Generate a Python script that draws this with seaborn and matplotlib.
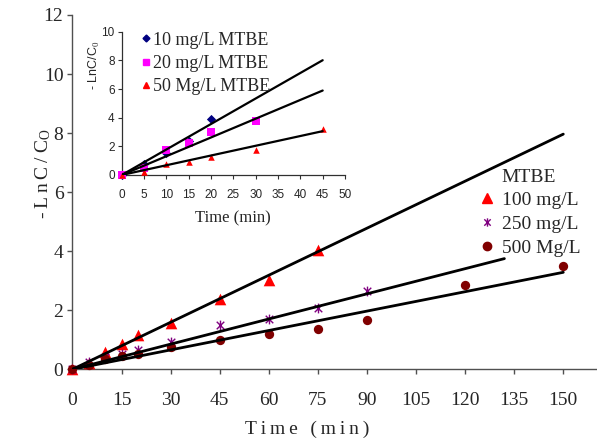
import numpy as np
import pandas as pd
import seaborn as sns
import matplotlib.pyplot as plt
from matplotlib.lines import Line2D
from matplotlib.path import Path

# main chart: -LnC/Co vs time for three MTBE concentrations
t_100 = [0, 5, 10, 15, 20, 30, 45, 60, 75]
y_100 = [0, 0.22, 0.59, 0.87, 1.15, 1.57, 2.37, 3.04, 4.03]
t_250 = [0, 5, 10, 15, 20, 30, 45, 60, 75, 90]
y_250 = [0, 0.25, 0.42, 0.53, 0.64, 0.93, 1.49, 1.72, 2.06, 2.64]
t_500 = [0, 5, 10, 15, 20, 30, 45, 60, 75, 90, 120, 150]
y_500 = [0, 0.14, 0.36, 0.44, 0.51, 0.76, 0.98, 1.18, 1.38, 1.68, 2.87, 3.50]
main_labels = ['100 mg/L', '250 mg/L', '500 Mg/L']
main_slopes = [0.0531, 0.0284, 0.0219]
main_line_end = [150, 132, 150]
main_xticks = [0, 15, 30, 45, 60, 75, 90, 105, 120, 135, 150]

# inset chart: low concentrations
t_10 = [0, 5, 10, 15, 20]
y_10 = [0, 0.75, 1.56, 2.40, 3.90]
t_20 = [0, 5, 10, 15, 20, 30]
y_20 = [0, 0.46, 1.74, 2.20, 2.98, 3.77]
t_50 = [0, 5, 10, 15, 20, 30, 45]
y_50 = [0, 0.23, 0.74, 0.93, 1.28, 1.74, 3.20]
inset_labels = ['10 mg/L MTBE', '20 mg/L MTBE', '50 Mg/L MTBE']
inset_slopes = [0.178, 0.131, 0.068]
inset_line_end = [45, 45, 45]

sns.set_style('ticks')
plt.rcParams['font.family'] = ['Liberation Serif', 'DejaVu Serif']
plt.rcParams['mathtext.fontset'] = 'custom'
plt.rcParams['mathtext.rm'] = 'Liberation Serif'

# asterisk marker = x plus vertical bar (excel style)
star = Path([(-1, -1), (1, 1), (-1, 1), (1, -1), (0, -1.3), (0, 1.3)],
            [Path.MOVETO, Path.LINETO, Path.MOVETO, Path.LINETO, Path.MOVETO, Path.LINETO])

fig = plt.figure(figsize=(5.97, 4.41), dpi=100)
ax = fig.add_axes([0.1214, 0.1626, 0.8786, 0.8034])

sns.scatterplot(x=t_100, y=y_100, marker='^', color='#ff0000', edgecolor='#ff0000',
                s=70, linewidth=0, ax=ax, clip_on=False, zorder=3)
sns.scatterplot(x=t_250, y=y_250, marker=star, color='#800080', edgecolor='#800080',
                s=50, linewidth=1, ax=ax, clip_on=False, zorder=3)
sns.scatterplot(x=t_500, y=y_500, marker='o', color='#800000', edgecolor='#800000',
                s=45, linewidth=0, ax=ax, clip_on=False, zorder=3)

for k, e in zip(main_slopes, main_line_end):
    sns.lineplot(x=[0, e], y=[0, k * e], color='black', lw=2.0, ax=ax, zorder=4)

ax.set_xlim(0, 160.3)
ax.set_ylim(0, 12)
ax.set_xticks(main_xticks)
ax.set_yticks(range(0, 13, 2))
sns.despine(ax=ax)
for s in ['left', 'bottom']:
    ax.spines[s].set_color('#505050')
    ax.spines[s].set_linewidth(1.0)
ax.tick_params(axis='both', labelsize=14, direction='out', length=3.5, width=1,
               color='#505050')
ax.tick_params(axis='x', pad=13)
ax.tick_params(axis='y', pad=3)

ax.set_xlabel('T\u2009i\u2009m\u2009e\u2009 \u2009(\u2009m\u2009i\u2009n\u2009)', fontsize=14)
ax.xaxis.set_label_coords(0.447, -0.145)
ax.set_ylabel('-\u2009L\u2009n\u2009C\u2009/\u2009C$\\mathregular{_O}$', fontsize=14)
ax.yaxis.set_label_coords(-0.037, 0.551)

handles = [Line2D([], [], linestyle='none', marker='')]
handles.append(Line2D([], [], linestyle='none', marker='^', color='#ff0000', markersize=7))
handles.append(Line2D([], [], linestyle='none', marker=star, color='#800080',
                      markersize=6, markeredgewidth=1))
handles.append(Line2D([], [], linestyle='none', marker='o', color='#800000', markersize=6))
ax.legend(handles, ['MTBE'] + main_labels, loc='upper left', bbox_to_anchor=(0.775, 0.568),
          frameon=False, fontsize=14, handlelength=0.8, handletextpad=0.37,
          labelspacing=0.31, borderpad=0, borderaxespad=0)

# inset
axi = fig.add_axes([0.2039, 0.6032, 0.3740, 0.3249])
axi.set_facecolor('white')
sns.scatterplot(x=t_10, y=y_10, marker='D', color='#000080', edgecolor='#000080',
                s=22, linewidth=0, ax=axi, clip_on=False, zorder=3)
sns.scatterplot(x=t_20, y=y_20, marker='s', color='#ff00ff', edgecolor='#ff00ff',
                s=30, linewidth=0, ax=axi, clip_on=False, zorder=3)
sns.scatterplot(x=t_50, y=y_50, marker='^', color='#ff0000', edgecolor='#ff0000',
                s=22, linewidth=0, ax=axi, clip_on=False, zorder=3)
for k, e in zip(inset_slopes, inset_line_end):
    sns.lineplot(x=[0, e], y=[0, k * e], color='black', lw=1.6, ax=axi, zorder=4)

axi.set_xlim(0, 50)
axi.set_ylim(0, 10)
axi.set_xticks(range(0, 51, 5))
axi.set_yticks(range(0, 11, 2))
sns.despine(ax=axi)
for s in ['left', 'bottom']:
    axi.spines[s].set_color('#303030')
    axi.spines[s].set_linewidth(0.9)
axi.tick_params(axis='both', labelsize=8.5, direction='out', length=3, width=0.8,
                color='#303030', pad=2)
axi.tick_params(axis='x', pad=7)
for lab in axi.get_xticklabels() + axi.get_yticklabels():
    lab.set_family(['Liberation Sans', 'DejaVu Sans'])
axi.set_xlabel('Time (min)', fontsize=12)
axi.xaxis.set_label_coords(0.5, -0.25)
axi.set_ylabel('- LnC/C$_0$', fontsize=9, family=['Liberation Sans', 'DejaVu Sans'])
axi.yaxis.set_label_coords(-0.09, 0.768)

ih = [Line2D([], [], linestyle='none', marker='D', color='#000080', markersize=3.5),
      Line2D([], [], linestyle='none', marker='s', color='#ff00ff', markersize=4),
      Line2D([], [], linestyle='none', marker='^', color='#ff0000', markersize=4)]
axi.legend(ih, inset_labels, loc='upper left', bbox_to_anchor=(0.089, 1.0),
           frameon=False, fontsize=13, handlelength=0.5, handletextpad=0.15,
           labelspacing=0.35, borderpad=0, borderaxespad=0)

fig.savefig('out.png', dpi=100)
